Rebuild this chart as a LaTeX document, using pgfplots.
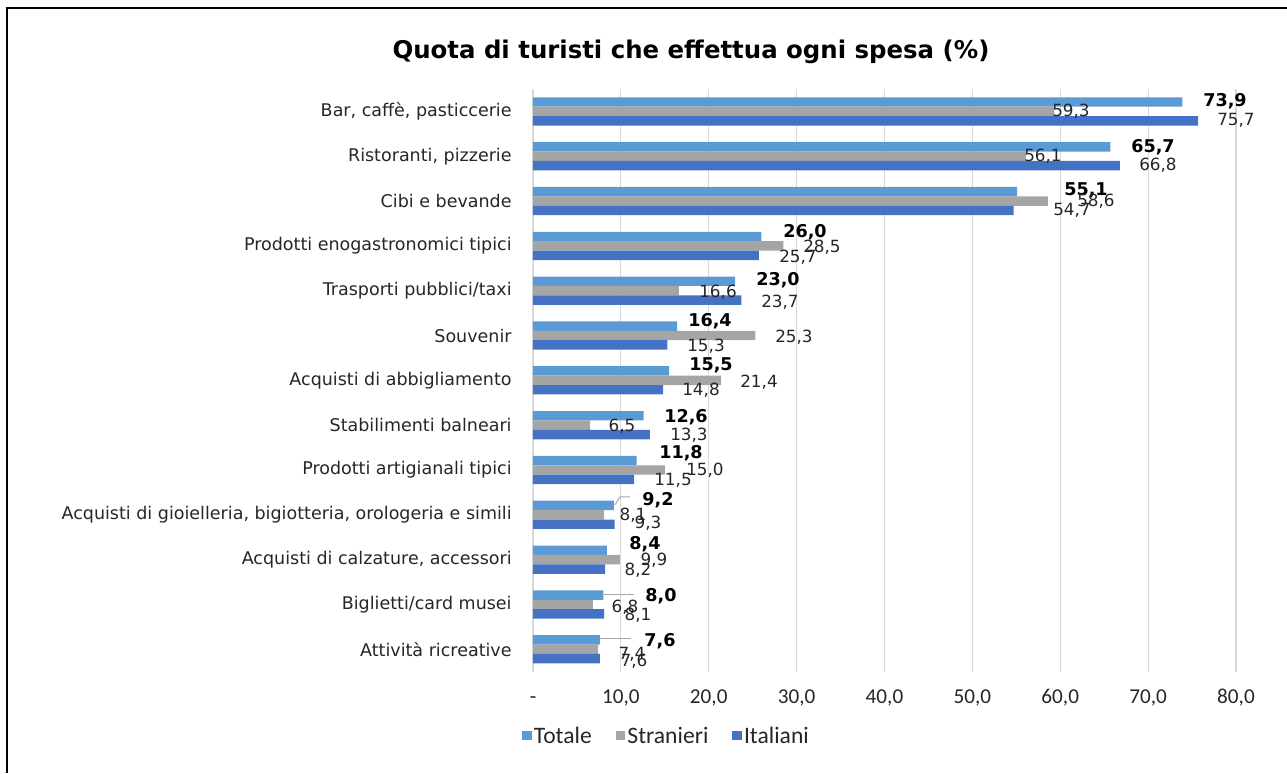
\documentclass[border=0pt]{standalone}
\usepackage{fontspec}
\usepackage{pgfplots}
\usepackage{pgfplotstable}
\pgfplotsset{compat=1.18}
\setmainfont{Carlito}
\newfontfamily\dv{DejaVu Sans}

\definecolor{tot}{HTML}{5B9BD5}
\definecolor{str}{HTML}{A5A5A5}
\definecolor{ita}{HTML}{4472C4}
\definecolor{txt}{HTML}{262626}
\definecolor{gridc}{HTML}{D9D9D9}
\definecolor{lead}{HTML}{A6A6A6}

% pos 12 = first category (top)
\pgfplotstableread{
pos tot str ita
12 73.9 59.3 75.7
11 65.7 56.1 66.8
10 55.1 58.6 54.7
9  26.0 28.5 25.7
8  23.0 16.6 23.7
7  16.4 25.3 15.3
6  15.5 21.4 14.8
5  12.6 6.5  13.3
4  11.8 15.0 11.5
3  9.2  8.1  9.3
2  8.4  9.9  8.2
1  8.0  6.8  8.1
0  7.6  7.4  7.6
}\data

% label placement in pixels
\newcommand\px[1]{(#1-533)/8.7875}
\newcommand\py[1]{12-(#1-111.7)/44.8}
\newcommand\vb[3]{\node[font=\dv\bfseries\fontsize{8.8}{10}\selectfont,text=black,inner sep=0pt] at (axis cs:{\px{#1}},{\py{#2}}) {#3};}
\newcommand\vn[3]{\node[font=\dv\fontsize{8.4}{10}\selectfont,text=txt,inner sep=0pt] at (axis cs:{\px{#1}},{\py{#2}}) {#3};}
\newcommand\lead[1]{\draw[lead,line width=0.5pt] #1;}

\begin{document}
\begin{tikzpicture}
\useasboundingbox (0,0) rectangle (643.5pt,386.5pt);
\draw[black,line width=1pt] (3.5pt,0) -- (3.5pt,382.5pt) -- (643.5pt,382.5pt);
\begin{axis}[
  at={(266.5pt,50.65pt)}, anchor=south west,
  scale only axis, width=351.5pt, height=291.35pt,
  xbar, bar width=0.21,
  legend image code/.code={\fill[#1] (0pt,-1.6pt) rectangle (4.8pt,3.2pt);},
  xmin=0, xmax=80, ymin=-0.5, ymax=12.5,
  enlargelimits=false, clip=false,
  axis x line*=bottom, axis y line*=left,
  x axis line style={draw=none}, y axis line style={draw=none},
  major tick length=0pt,
  xmajorgrids, grid style={gridc, line width=0.6pt},
  xtick={0,10,...,80},
  xticklabels={-,{10,0},{20,0},{30,0},{40,0},{50,0},{60,0},{70,0},{80,0}},
  xticklabel style={font=\fontsize{10.6}{12}\selectfont, text=txt, anchor=base, inner sep=0pt, yshift=-15.9pt},
  ytick={0,...,12},
  yticklabels={Attività ricreative, Biglietti/card musei, {Acquisti di calzature, accessori},
    {Acquisti di gioielleria, bigiotteria, orologeria e simili}, Prodotti artigianali tipici,
    Stabilimenti balneari, Acquisti di abbigliamento, Souvenir, Trasporti pubblici/taxi,
    Prodotti enogastronomici tipici, Cibi e bevande, {Ristoranti, pizzerie}, {Bar, caffè, pasticcerie}},
  yticklabel style={font=\dv\fontsize{8.75}{10}\selectfont, text=txt, anchor=east, inner sep=0pt, xshift=-10.5pt},
  legend columns=3,
  legend style={at={(0.19,-0.112)}, anchor=center, draw=none, fill=none,
    font=\fontsize{11.8}{13}\selectfont, text=txt,
    nodes={inner xsep=1pt},
    /tikz/every even column/.append style={column sep=11pt}},
]
\addplot[fill=tot, draw=none, bar shift=0.21] table[x=tot,y=pos] {\data};
\addplot[fill=str, draw=none, bar shift=0] table[x=str,y=pos] {\data};
\addplot[fill=ita, draw=none, bar shift=-0.21] table[x=ita,y=pos] {\data};
\legend{Totale, Stranieri, Italiani}

\node[font=\dv\bfseries\fontsize{12.2}{14}\selectfont] at (axis cs:{\px{691}},{\py{52}}) {Quota di turisti che effettua ogni spesa (\%)};

\lead{(axis cs:{\px{615}},{\py{505}}) -- (axis cs:{\px{620}},{\py{497}}) -- (axis cs:{\px{630}},{\py{497}})}
\lead{(axis cs:{\px{602}},{\py{595}}) -- (axis cs:{\px{634}},{\py{595}})}
\lead{(axis cs:{\px{600}},{\py{639}}) -- (axis cs:{\px{631}},{\py{639}})}

\vb{1225}{102}{73,9} \vn{1071}{112}{59,3} \vn{1236}{121}{75,7}
\vb{1153}{147}{65,7} \vn{1043}{157}{56,1} \vn{1158}{166}{66,8}
\vb{1086}{191}{55,1} \vn{1096}{201}{58,6} \vn{1072}{211}{54,7}
\vb{805}{232}{26,0} \vn{822}{247}{28,5} \vn{798}{257}{25,7}
\vb{778}{280}{23,0} \vn{718}{292}{16,6} \vn{780}{302}{23,7}
\vb{710}{321}{16,4} \vn{794}{337}{25,3} \vn{706}{346}{15,3}
\vb{711}{365}{15,5} \vn{759}{382}{21,4} \vn{701}{390}{14,8}
\vb{686}{417}{12,6} \vn{622}{426}{6,5} \vn{689}{435}{13,3}
\vb{681}{453}{11,8} \vn{705}{470}{15,0} \vn{673}{480}{11,5}
\vb{658}{500}{9,2} \vn{633}{515}{8,1} \vn{648}{523}{9,3}
\vb{645}{544}{8,4} \vn{654}{560}{9,9} \vn{638}{570}{8,2}
\vb{661}{596}{8,0} \vn{625}{607}{6,8} \vn{638}{615}{8,1}
\vb{660}{641}{7,6} \vn{632}{654}{7,4} \vn{634}{661}{7,6}
\end{axis}
\end{tikzpicture}
\end{document}
